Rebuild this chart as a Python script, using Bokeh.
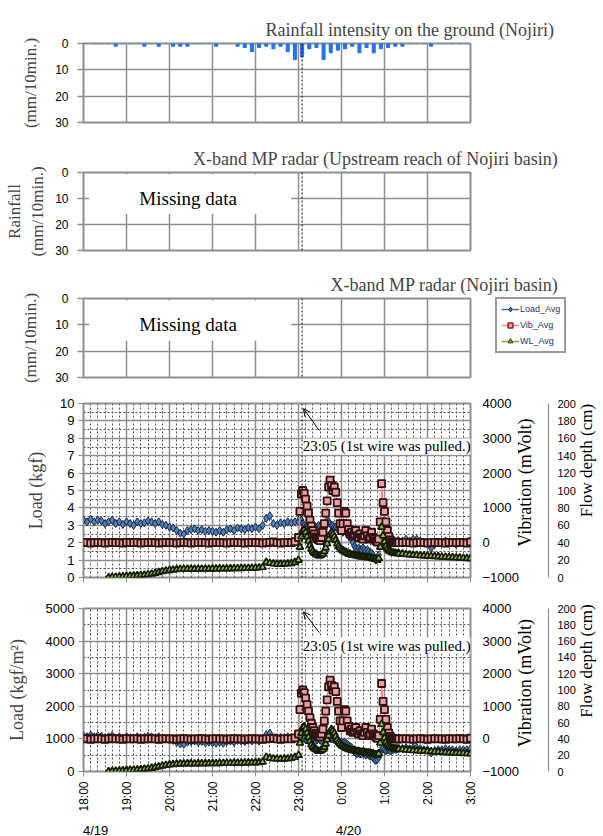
import math
from bokeh.plotting import figure
from bokeh.layouts import column
from bokeh.models import (Range1d, LinearAxis, FixedTicker, Span, Label, Arrow,
                          OpenHead, Legend, LegendItem, Grid)
from bokeh.embed import file_html
from bokeh.resources import INLINE

nan = float("nan")

# ---------------- data ----------------
hour_ticks = [0, 60, 120, 180, 240, 300, 360, 420, 480, 540]        # minutes after 18:00 (4/19)
hour_labels = ["18:00", "19:00", "20:00", "21:00", "22:00", "23:00", "0:00", "1:00", "2:00", "3:00"]
date_pos = [17, 370]
date_labels = ["4/19", "4/20"]
wire_time = 305          # 23:05
annot_text = "23:05 (1st wire was pulled.)"

rain_ticks = [0, 10, 20, 30]
load_ticks = [0, 1, 2, 3, 4, 5, 6, 7, 8, 9, 10]
loadm2_ticks = [0, 1000, 2000, 3000, 4000, 5000]
vib_ticks = [-1000, 0, 1000, 2000, 3000, 4000]
wl_ticks = [0, 20, 40, 60, 80, 100, 120, 140, 160, 180, 200]

# ground rainfall, 10-min totals (mm/10min), slot centres 18:05 ... 2:55
rain_time = list(range(5, 540, 10))
rain = [0, 0, 0, 0, 1, 0, 0, 0, 1, 0,
        1, 0, 1, 1, 1, 0, 0, 0, 1, 0,
        0, 1, 1.5, 3, 1.5, 1, 2, 1, 3, 6,
        5, 2, 1.5, 6, 3.5, 2.5, 2, 1, 3.5, 1.5,
        3.5, 2, 1.5, 1, 1, 0, 0, 0, 1, 0,
        0, 0, 0, 0]

# sensor series: 18:00-22:55 every 5 min, 23:00-1:20 every 2 min, 1:25-3:00 every 5 min
time_min = list(range(0, 300, 5)) + list(range(300, 442, 2)) + list(range(445, 541, 5))

load_kgf = [
    # 18:00 - 22:55
    3.30, 3.20, 3.35, 3.20, 3.30, 3.25,
    3.10, 3.20, 3.30, 3.10, 3.20, 3.05,
    3.20, 3.10, 3.00, 3.20, 3.10, 3.15,
    3.25, 3.20, 3.10, 3.20, 3.05, 3.00,
    2.90, 2.85, 2.70, 2.55, 2.50, 2.70,
    2.75, 2.80, 2.70, 2.75, 2.65, 2.70,
    2.65, 2.60, 2.70, 2.60, 2.75, 2.80,
    2.70, 2.85, 2.80, 2.75, 2.85, 2.80,
    2.90, 2.80, 3.00, 3.40, 3.55, 3.10,
    3.00, 3.15, 3.10, 3.20, 3.15, 3.20,
    # 23:00 - 1:20
    3.2, 3.4, 3.3, 3.1, 3.0, 2.9, 2.9, 3.0, 3.1, 3.0,
    3.0, 2.9, 2.8, 2.9, 3.0, 2.9, 2.8, 2.9, 3.0, 3.2,
    3.3, 3.2, 3.1, 3.0, 3.0, 2.9, 2.9, 2.8, 2.8, 2.7,
    2.7, 2.6, 2.7, 2.6, 2.5, 2.4, 2.3, 2.2, 2.0, 1.8,
    1.7, 1.6, 1.7, 1.6, 1.6, 1.7, 1.6, 1.5, 1.6, 1.5,
    1.4, 1.4, 1.3, 1.1, 1.0, 1.1, 1.3, 1.8, 2.2, 2.1,
    2.0, 1.9, 2.0, 2.0, 1.9, 2.0, 2.0, 2.1, 2.0, 2.1,
    2.1,
    # 1:25 - 3:00
    2.1, 2.2, 2.1, 2.2, 2.2,
    2.1, 2.0, 2.0, 1.7, 1.9,
    2.0, 2.0, 2.1, 2.0, 2.0,
    1.9, 2.0, 2.0, 2.0, 2.1,
]

vib_mv = [
    # 18:00 - 22:55
    0, 10, -10, 0, 10, 0,
    -10, 0, 10, 0, 0, -10,
    10, 0, 0, 10, -10, 0,
    0, 10, 0, -10, 0, 10,
    0, 0, -10, 0, 10, 0,
    -10, 0, 0, 10, 0, -10,
    0, 10, 0, 0, -10, 0,
    10, 0, 0, -10, 0, 10,
    0, 0, -10, 0, 10, 20,
    0, -10, 0, 10, 0, 30,
    # 23:00 - 1:20
    150, 900, 1400, 1500, 1420, 1250, 1050, 850, 650, 480,
    350, 250, 170, 120, 80, 60, 150, 300, 550, 850,
    1200, 1600, 1800, 1650, 1500, 1600, 1450, 1150, 850, 550,
    350, 550, 900, 850, 550, 380, 250, 300, 200, 250,
    350, 200, 150, 250, 150, 100, 200, 350, 200, 100,
    150, 300, 150, 100, 50, 20, 100, 600, 1700, 1150,
    900, 600, 350, 180, 80, 30, 10, 0, 0, 0,
    0,
    # 1:25 - 3:00
    0, 10, 0, -10, 0,
    10, 0, -10, 0, 10,
    0, 0, -10, 10, 0,
    0, 10, 0, -10, 20,
]

wl_cm = [
    # 18:00 - 22:55
    nan, nan, nan, nan, nan, nan,
    nan, 0.0, 0.3, 0.6, 0.9, 1.2,
    1.5, 1.8, 2.0, 2.3, 2.6, 3.0,
    3.5, 4.2, 5.0, 6.0, 7.0, 7.8,
    8.3, 8.8, 9.2, 9.5, 9.6, 9.8,
    9.8, 9.7, 9.8, 9.9, 9.8, 9.9,
    10.0, 10.0, 10.1, 10.2, 10.2, 10.3,
    10.4, 10.5, 10.6, 10.7, 10.8, 10.9,
    11.0, 11.3, 11.8, 17.5, 16.5, 15.8,
    15.5, 15.5, 15.6, 15.8, 16.3, 17.5,
    # 23:00 - 1:20
    20, 35, 47, 54, 55, 52, 47, 42, 37, 33,
    30, 28, 27, 26, 25, 25, 26, 27, 30, 34,
    39, 44, 49, 52, 50, 47, 43, 39, 36, 34,
    32, 31, 30, 29, 28, 27, 27, 26, 26, 26,
    25, 25, 25, 24, 24, 24, 24, 23, 23, 23,
    23, 22, 22, 21, 21, 20, 22, 35, 58, 48,
    41, 36, 33, 31, 30, 29, 28.5, 28, 28, 27.5,
    27.5,
    # 1:25 - 3:00
    27.2, 26.5, 26.3, 25.8, 25.6,
    25.2, 25.1, 24.7, 24.6, 24.2,
    24.1, 23.7, 23.6, 23.2, 23.1,
    22.7, 22.6, 22.3, 22.1, 21.8,
]

# ---------------- styles ----------------
SERIF = "Liberation Serif"
SANS = "Liberation Sans"
GRID = "#8e8e8e"
MINOR = "#555555"
RAIN_BLUE = "#2673f0"
LOAD_LINE, LOAD_FILL, LOAD_EDGE = "#3c6fb0", "#4f81bd", "#17283f"
VIB_LINE, VIB_FILL, VIB_EDGE = "#f08a8a", "#e8a0a0", "#301010"
WL_LINE, WL_FILL, WL_EDGE = "#7aa83a", "#9bbb59", "#141c06"

FRAME_W = 387
LEFT_B = 83
RIGHT_B = 133
x_minor = [m for m in range(10, 540, 10) if m % 60 != 0]


def make_grid(p, dim, ticks, minor=None, minor_on=False):
    g = Grid(dimension=dim,
             ticker=FixedTicker(ticks=ticks, minor_ticks=minor or []),
             grid_line_color=GRID, grid_line_width=1.5)
    if minor_on:
        g.minor_grid_line_color = MINOR
        g.minor_grid_line_dash = "2 2"
        g.minor_grid_line_width = 1
    p.add_layout(g)


def rain_panel(title, ylabel, top_b, frame_h, missing, label_standoff):
    p = figure(frame_width=FRAME_W, frame_height=frame_h,
               min_border_left=LEFT_B, min_border_right=RIGHT_B,
               min_border_top=top_b, min_border_bottom=13,
               x_range=Range1d(0, 540), y_range=Range1d(30, 0),
               x_axis_location=None, title=title,
               output_backend="svg", toolbar_location=None)
    p.title.align = "right"
    p.title.offset = -88
    p.title.text_font = SERIF
    p.title.text_font_size = "18px"
    p.title.text_font_style = "normal"
    p.title.standoff = 7
    p.outline_line_color = GRID
    p.outline_line_width = 2
    p.grid.visible = False
    make_grid(p, 0, hour_ticks)
    make_grid(p, 1, [10, 20])
    ax = p.yaxis[0]
    ax.ticker = FixedTicker(ticks=rain_ticks)
    ax.axis_line_color = None
    ax.major_tick_line_color = GRID
    ax.major_tick_line_width = 1.5
    ax.major_tick_out = 6
    ax.major_tick_in = 0
    ax.minor_tick_out = 0
    ax.minor_tick_line_color = None
    ax.major_label_standoff = 9
    ax.major_label_text_font = SANS
    ax.major_label_text_font_size = "12px"
    ax.major_label_text_color = "black"
    ax.axis_label = ylabel
    ax.axis_label_text_font = SERIF
    ax.axis_label_text_font_size = "17px"
    ax.axis_label_text_font_style = "normal"
    ax.axis_label_standoff = label_standoff
    if missing:
        p.quad(left=8, right=290, top=0.7, bottom=16, fill_color="white", line_color=None)
        p.add_layout(Label(x=146, y=10, text="Missing data", text_align="center",
                           text_baseline="middle", text_font=SERIF, text_font_size="19px",
                           text_color="black"))
    p.add_layout(Span(location=wire_time, dimension="height", line_color="black",
                      line_dash="2 2", line_width=1))
    return p


def title_axis(range_name, tick, text, size, standoff):
    return LinearAxis(y_range_name=range_name, ticker=FixedTicker(ticks=[tick]),
                      major_label_overrides={tick: text},
                      major_label_orientation=math.pi / 2,
                      axis_line_color=None, major_tick_line_color=None,
                      minor_tick_line_color=None, major_tick_out=0, major_tick_in=0,
                      minor_tick_out=0, minor_tick_in=0,
                      major_label_standoff=standoff,
                      major_label_text_font=SERIF, major_label_text_font_size=size,
                      major_label_text_color="black")


def data_panel(ylabel, y_end, yticks, yminor, frame_h, top_b, bottom_b, load_end, last,
               annot_y, arrow_y0, arrow_y1, label_standoff):
    p = figure(frame_width=FRAME_W, frame_height=frame_h,
               min_border_left=LEFT_B, min_border_right=RIGHT_B,
               min_border_top=top_b, min_border_bottom=bottom_b,
               x_range=Range1d(0, 540), y_range=Range1d(0, y_end),
               output_backend="svg", toolbar_location=None)
    ranges = {"vib": Range1d(-1000, 4000), "wl": Range1d(0, 200)}
    load_range = "default"
    if load_end is not None:
        ranges["kgf"] = Range1d(0, load_end)
        load_range = "kgf"
    p.extra_y_ranges = ranges
    p.outline_line_color = GRID
    p.outline_line_width = 2
    p.grid.visible = False
    make_grid(p, 0, hour_ticks, x_minor, True)
    make_grid(p, 1, yticks, yminor, True)

    # left axis
    ax = p.yaxis[0]
    ax.ticker = FixedTicker(ticks=yticks)
    ax.axis_line_color = None
    ax.major_tick_line_color = GRID
    ax.major_tick_out = 5
    ax.major_tick_in = 0
    ax.minor_tick_out = 0
    ax.minor_tick_line_color = None
    ax.major_label_standoff = 4
    ax.major_label_text_font = SANS
    ax.major_label_text_font_size = "13px"
    ax.major_label_text_color = "black"
    ax.axis_label = ylabel
    ax.axis_label_text_font = SERIF
    ax.axis_label_text_font_size = "18px"
    ax.axis_label_text_font_style = "normal"
    ax.axis_label_standoff = label_standoff

    # bottom axis
    bx = p.xaxis[0]
    bx.ticker = FixedTicker(ticks=hour_ticks)
    bx.axis_line_color = None
    bx.major_tick_line_color = GRID
    bx.major_tick_out = 5
    bx.major_tick_in = 0
    bx.minor_tick_out = 0
    bx.minor_tick_line_color = None
    if last:
        bx.major_label_overrides = {t: l for t, l in zip(hour_ticks, hour_labels)}
        bx.major_label_orientation = math.pi / 2
        bx.major_label_text_font = SANS
        bx.major_label_text_font_size = "12px"
        bx.major_label_text_color = "black"
        bx.major_label_standoff = 5
        dx = LinearAxis(ticker=FixedTicker(ticks=date_pos),
                        major_label_overrides={t: l for t, l in zip(date_pos, date_labels)},
                        axis_line_color=None, major_tick_line_color=None,
                        minor_tick_line_color=None, major_tick_out=0, minor_tick_out=0,
                        major_label_standoff=8,
                        major_label_text_font=SANS, major_label_text_font_size="13px",
                        major_label_text_color="black")
        p.add_layout(dx, "below")
    else:
        bx.major_label_overrides = {t: "" for t in hour_ticks}
        bx.major_label_standoff = 0

    # right axes: vibration, its title, flow depth, its title
    vax = LinearAxis(y_range_name="vib", ticker=FixedTicker(ticks=vib_ticks),
                     axis_line_color=None, major_tick_line_color=None,
                     minor_tick_line_color=None, major_tick_out=0, major_tick_in=0,
                     minor_tick_out=0, minor_tick_in=0,
                     major_label_standoff=12,
                     major_label_text_font=SANS, major_label_text_font_size="13px",
                     major_label_text_color="black")
    p.add_layout(vax, "right")
    p.add_layout(title_axis("vib", 1500, "Vibration (mVolt)", "18px", 3), "right")
    wax = LinearAxis(y_range_name="wl", ticker=FixedTicker(ticks=wl_ticks),
                     axis_line_color=GRID, axis_line_width=1.2,
                     major_tick_line_color=None, minor_tick_line_color=None,
                     major_tick_out=0, major_tick_in=0, minor_tick_out=0, minor_tick_in=0,
                     major_label_standoff=9,
                     major_label_text_font=SANS, major_label_text_font_size="11px",
                     major_label_text_color="black")
    p.add_layout(wax, "right")
    p.add_layout(title_axis("wl", 100, "Flow depth (cm)", "17px", 8), "right")

    # series
    p.line(time_min, load_kgf, y_range_name=load_range, line_color=LOAD_LINE, line_width=1)
    p.scatter(time_min, load_kgf, y_range_name=load_range, marker="diamond", size=8,
              fill_color=LOAD_FILL, line_color=LOAD_EDGE, line_width=1)
    p.line(time_min, vib_mv, y_range_name="vib", line_color=VIB_LINE, line_width=1.2)
    p.scatter(time_min, vib_mv, y_range_name="vib", marker="square", size=7,
              fill_color=VIB_FILL, line_color=VIB_EDGE, line_width=1.8)
    p.line(time_min, wl_cm, y_range_name="wl", line_color=WL_LINE, line_width=1)
    p.scatter(time_min, wl_cm, y_range_name="wl", marker="triangle", size=7,
              fill_color=WL_FILL, line_color=WL_EDGE, line_width=1.7)

    p.add_layout(Span(location=wire_time, dimension="height", line_color="black",
                      line_dash="2 2", line_width=1))
    p.add_layout(Arrow(end=OpenHead(size=7, line_width=1, line_color="black"),
                       x_start=329, y_start=arrow_y0, x_end=307, y_end=arrow_y1,
                       line_color="black", line_width=1))
    p.add_layout(Label(x=306, y=annot_y, text=annot_text, text_baseline="middle",
                       text_font=SERIF, text_font_size="15px", text_color="black",
                       background_fill_color="white"))
    return p


p1 = rain_panel("Rainfall  intensity on the ground (Nojiri)", "(mm/10min.)", 43, 79, False, 12)
p1.vbar(x=rain_time, top=rain, bottom=0, width=4, fill_color=RAIN_BLUE,
        line_color=RAIN_BLUE, line_width=1.2)

p2 = rain_panel("X-band MP radar (Upstream reach of Nojiri basin)", "Rainfall\n(mm/10min.)",
                37, 78, True, 5)
p3 = rain_panel("X-band MP radar (Nojiri basin)", "(mm/10min.)", 35, 79, True, 12)

# legend, drawn in the right-hand margin of panel 3 as in the original
# (swatch renderers hold one point outside the visible range so only the legend shows them)
off_x, off_y = [-999], [-999]
r_l1 = p3.line(off_x, off_y, line_color=LOAD_LINE, line_width=1.5)
r_s1 = p3.scatter(off_x, off_y, marker="diamond", size=7, fill_color=LOAD_FILL,
                  line_color=LOAD_EDGE)
r_l2 = p3.line(off_x, off_y, line_color=VIB_LINE, line_width=1.5)
r_s2 = p3.scatter(off_x, off_y, marker="square", size=6, fill_color=VIB_FILL,
                  line_color="#8b2020", line_width=1.5)
r_l3 = p3.line(off_x, off_y, line_color=WL_LINE, line_width=1.5)
r_s3 = p3.scatter(off_x, off_y, marker="triangle", size=6, fill_color=WL_FILL,
                  line_color="#2a3a10")
legend = Legend(items=[LegendItem(label="Load_Avg", renderers=[r_l1, r_s1]),
                       LegendItem(label="Vib_Avg", renderers=[r_l2, r_s2]),
                       LegendItem(label="WL_Avg", renderers=[r_l3, r_s3])],
                location=(25, 24), border_line_color="#333333", border_line_width=2,
                background_fill_color="white", background_fill_alpha=1.0,
                label_text_font=SANS, label_text_font_size="9px", label_text_color="#203864",
                glyph_width=18, glyph_height=12, label_height=12, spacing=4, padding=4,
                margin=0, label_standoff=1)
p3.add_layout(legend, "right")

p4 = data_panel("Load (kgf)", 10, load_ticks, [x + 0.5 for x in range(10)], 174, 13, 13,
                None, False, 7.53, 8.45, 9.7, 11)
p5 = data_panel("Load (kgf/m\u00b2)", 5000, loadm2_ticks, [500, 1500, 2500, 3500, 4500],
                163, 18, 65, 15, True, 3865, 4260, 4900, 16)

layout = column(p1, p2, p3, p4, p5, spacing=0)
open("out.html", "w").write(file_html(layout, INLINE))
